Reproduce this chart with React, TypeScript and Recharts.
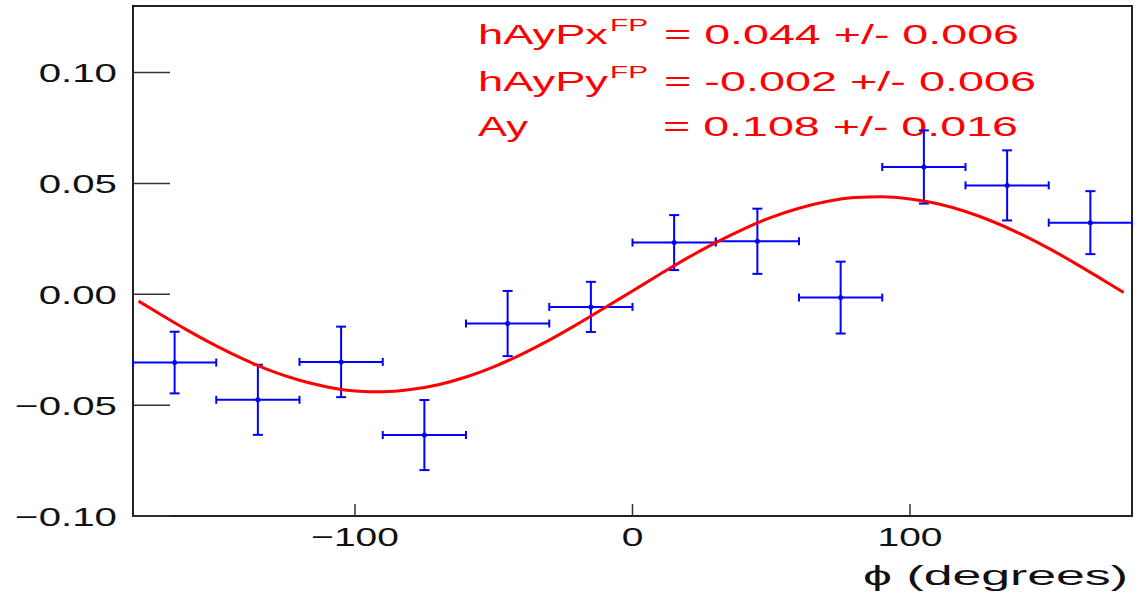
import { ComposedChart, XAxis, YAxis, Scatter, ErrorBar, Line, ReferenceArea } from "recharts";

const FONT = "'Liberation Sans', Arial, Helvetica, sans-serif";

// measured bins (phi centres, half width 15 deg)
const phiCenters = [-165, -135, -105, -75, -45, -15, 15, 45, 75, 105, 135, 165];
const phiHalfWidths = [15, 15, 15, 15, 15, 15, 15, 15, 15, 15, 15, 15];
const asymValues = [-0.0308, -0.0476, -0.0305, -0.0635, -0.0132, -0.0057, 0.0233, 0.0239, -0.0015, 0.0574, 0.0491, 0.0323];
const asymErrors = [0.0139, 0.0158, 0.0159, 0.0158, 0.0147, 0.0113, 0.0124, 0.0147, 0.0162, 0.0165, 0.0158, 0.0142];

// fitted curve
const fitPhi = [
  -178, -170, -160, -150, -140, -130, -120, -110, -100, -90, -80, -70, -60, -50, -40, -30, -20, -10,
  0, 10, 20, 30, 40, 50, 60, 70, 80, 90, 100, 110, 120, 130, 140, 150, 160, 170, 177,
];
const fitValues = [
  -0.0031, -0.0091, -0.0165, -0.0233, -0.0294, -0.0347, -0.0388, -0.0418, -0.0436, -0.044, -0.043, -0.0408,
  -0.0373, -0.0327, -0.0271, -0.0207, -0.0136, -0.0061, 0.0015, 0.0091, 0.0165, 0.0233, 0.0294, 0.0347,
  0.0388, 0.0418, 0.0436, 0.044, 0.043, 0.0408, 0.0373, 0.0327, 0.0271, 0.0207, 0.0136, 0.0061, 0.0008,
];

const xTicks = [-100, 0, 100];
const xTickLabels = ["\u2212100", "0", "100"];
const yTicks = [-0.1, -0.05, 0, 0.05, 0.1];
const yTickLabels = ["\u22120.10", "\u22120.05", "0.00", "0.05", "0.10"];

const points = phiCenters.map((x, i) => ({ x, y: asymValues[i], ex: phiHalfWidths[i], ey: asymErrors[i] }));
const fitData = fitPhi.map((x, i) => ({ x, y: fitValues[i] }));

const YTick = (props: any) => {
  const { x, y, payload } = props;
  const label = yTickLabels[yTicks.indexOf(payload.value)];
  return (
    <g>
      <line x1={x} x2={x + 37} y1={y} y2={y} stroke="#333" strokeWidth={1.5} />
      <text
        transform={`translate(${x - 16},${y + 9.5}) scale(1.52,1)`}
        textAnchor="end"
        fontSize={26.5}
        fontFamily={FONT}
        fill="#111"
      >
        {label}
      </text>
    </g>
  );
};

const XTick = (props: any) => {
  const { x, y, payload } = props;
  const label = xTickLabels[xTicks.indexOf(payload.value)];
  return (
    <g>
      <line x1={x} x2={x} y1={y - 12} y2={y} stroke="#333" strokeWidth={1.5} />
      <text
        transform={`translate(${x},${y + 30}) scale(1.47,1)`}
        textAnchor="middle"
        fontSize={26.5}
        fontFamily={FONT}
        fill="#111"
      >
        {label}
      </text>
    </g>
  );
};

const Dot = (props: any) => {
  const { cx, cy } = props;
  return <circle cx={cx} cy={cy} r={2.5} fill="#0000ff" />;
};

export default function App() {
  const red = "#ff0000";
  return (
    <div style={{ position: "absolute", left: 0, top: 0, width: 1143, height: 595, background: "#fff" }}>
      <ComposedChart width={1143} height={595} margin={{ top: 6, right: 11, left: 0, bottom: 0 }}>
        <XAxis
          type="number"
          dataKey="x"
          domain={[-180, 180]}
          ticks={xTicks}
          height={79}
          axisLine={false}
          tickLine={false}
          tickSize={0}
          tickMargin={0}
          tick={<XTick />}
          allowDataOverflow
        />
        <YAxis
          type="number"
          domain={[-0.1, 0.13]}
          ticks={yTicks}
          width={133}
          axisLine={false}
          tickLine={false}
          tickSize={0}
          tickMargin={0}
          tick={<YTick />}
          allowDataOverflow
        />
        <ReferenceArea x1={-180} x2={180} y1={-0.1} y2={0.13} fill="none" stroke="#222" strokeWidth={2} />
        <Scatter data={points} dataKey="y" fill="#0000ff" shape={<Dot />} isAnimationActive={false}>
          <ErrorBar dataKey="ex" direction="x" stroke="#0000ff" strokeWidth={2} width={4} isAnimationActive={false} />
          <ErrorBar dataKey="ey" direction="y" stroke="#0000ff" strokeWidth={2} width={5} isAnimationActive={false} />
        </Scatter>
        <Line
          data={fitData}
          dataKey="y"
          type="monotone"
          stroke={red}
          strokeWidth={3}
          dot={false}
          activeDot={false}
          isAnimationActive={false}
        />
        {/* fit results */}
        <g fontFamily={FONT} fill={red}>
          <text x={478} y={44} fontSize={28} textLength={130} lengthAdjust="spacingAndGlyphs">hAyPx</text>
          <text x={610} y={31} fontSize={16} textLength={38} lengthAdjust="spacingAndGlyphs">FP</text>
          <text x={664} y={44} fontSize={28} textLength={355} lengthAdjust="spacingAndGlyphs">= 0.044 +/- 0.006</text>
          <text x={478} y={91} fontSize={28} textLength={130} lengthAdjust="spacingAndGlyphs">hAyPy</text>
          <text x={610} y={78} fontSize={16} textLength={38} lengthAdjust="spacingAndGlyphs">FP</text>
          <text x={664} y={91} fontSize={28} textLength={372} lengthAdjust="spacingAndGlyphs">= -0.002 +/- 0.006</text>
          <text x={478} y={136} fontSize={28} textLength={50} lengthAdjust="spacingAndGlyphs">Ay</text>
          <text x={663} y={136} fontSize={28} textLength={355} lengthAdjust="spacingAndGlyphs">= 0.108 +/- 0.016</text>
        </g>
        <text x={863} y={585} fontSize={27} fontFamily={FONT} fill="#111" textLength={265} lengthAdjust="spacingAndGlyphs">
          {"\u03D5 (degrees)"}
        </text>
      </ComposedChart>
    </div>
  );
}
